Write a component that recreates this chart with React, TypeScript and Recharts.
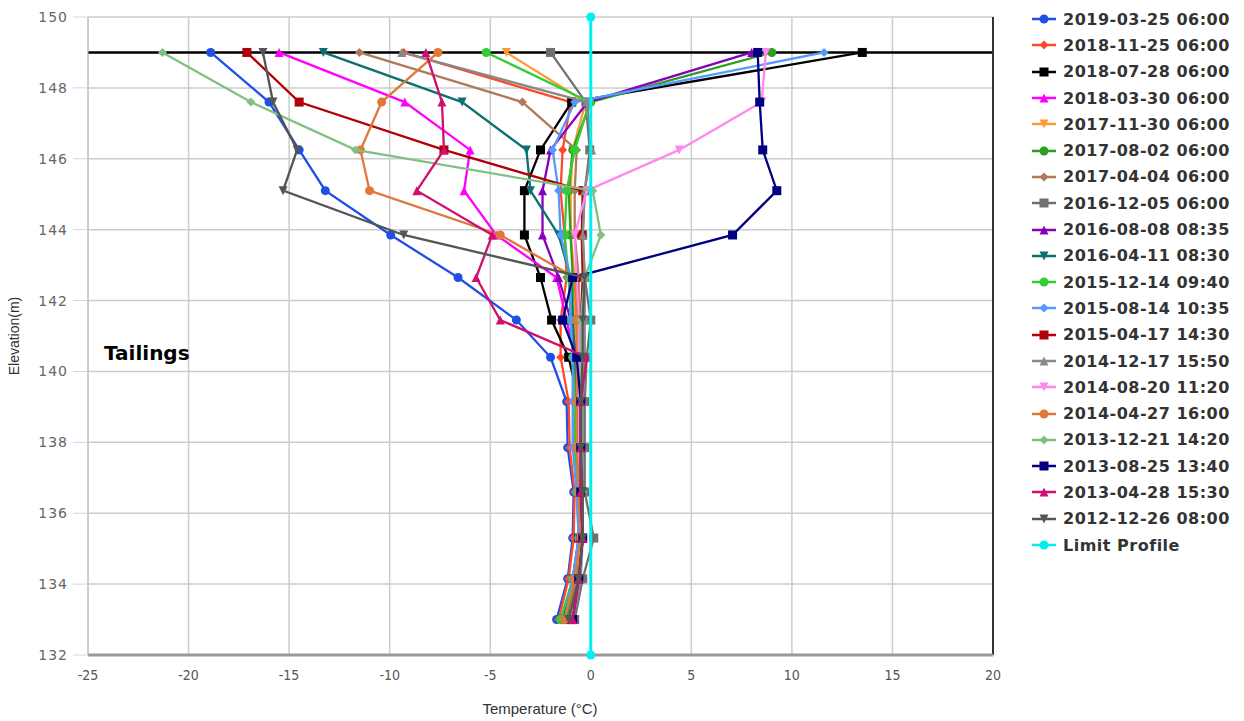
import React from 'react';
import {
  ScatterChart,
  Scatter,
  XAxis,
  YAxis,
  CartesianGrid,
  ReferenceLine,
} from 'recharts';

// elevation of each thermistor bead (m), top to bottom
const elevations = [149, 147.6, 146.25, 145.1, 143.85, 142.65, 141.45, 140.4, 139.15, 137.85, 136.6, 135.3, 134.15, 133.0];

const xTicks = [-25, -20, -15, -10, -5, 0, 5, 10, 15, 20];
const yTicks = [132, 134, 136, 138, 140, 142, 144, 146, 148, 150];

// temperatures (°C) per reading, same order as elevations
const t20190325 = [-18.9, -16.0, -14.5, -13.2, -9.95, -6.6, -3.7, -2.0, -1.2, -1.15, -0.85, -0.9, -1.15, -1.7];
const t20181125 = [-9.3, -1.0, -1.4, -1.5, -1.3, -1.2, -1.5, -1.5, -1.1, -1.05, -0.8, -0.85, -1.1, -1.6];
const t20180728 = [13.5, -0.95, -2.5, -3.3, -3.3, -2.5, -1.95, -1.1, -0.6, -0.6, -0.6, -0.6, -0.8, -1.3];
const t20180330 = [-15.5, -9.25, -6.0, -6.3, -4.7, -1.7, -1.2, -0.8, -0.7, -0.65, -0.6, -0.6, -0.8, -1.2];
const t20171130 = [-4.2, -0.25, -0.9, -1.0, -1.0, -0.8, -0.8, -0.7, -0.7, -0.7, -0.6, -0.6, -0.8, -1.3];
const t20170802 = [9.0, 0.0, -0.9, -1.1, -1.0, -0.9, -0.9, -0.8, -0.8, -0.8, -0.6, -0.5, -0.7, -1.2];
const t20170404 = [-11.5, -3.4, -0.7, -0.8, -0.8, -0.6, -0.6, -0.6, -0.6, -0.6, -0.5, -0.5, -0.7, -1.1];
const t20161205 = [-2.0, -0.25, -0.05, -0.3, -0.4, -0.3, 0.0, -0.2, -0.3, -0.3, -0.3, 0.15, -0.4, -0.8];
const t20160808 = [8.0, -0.15, -2.0, -2.4, -2.4, -1.6, -1.0, -0.7, -0.6, -0.6, -0.5, -0.4, -0.6, -1.0];
const t20160411 = [-13.3, -6.4, -3.2, -3.0, -1.6, -1.0, -0.9, -0.8, -0.7, -0.7, -0.6, -0.6, -0.9, -1.4];
const t20151214 = [-5.2, -0.05, -0.8, -1.2, -1.3, -1.1, -1.0, -0.9, -0.8, -0.8, -0.7, -0.6, -0.9, -1.5];
const t20150814 = [11.6, -0.8, -1.9, -1.6, -1.5, -1.0, -1.0, -0.9, -0.9, -0.9, -0.7, -0.6, -0.9, -1.3];
const t20150417 = [-17.1, -14.5, -7.3, -0.4, -0.45, -0.4, -0.5, -0.5, -0.5, -0.5, -0.5, -0.5, -0.6, -1.0];
const t20141217 = [-9.4, -0.2, 0.05, -0.3, -0.4, -0.3, -0.3, -0.3, -0.4, -0.4, -0.4, -0.4, -0.5, -0.9];
const t20140820 = [8.7, 8.5, 4.4, -0.2, -0.8, -0.7, -0.6, -0.6, -0.6, -0.6, -0.5, -0.5, -0.6, -0.9];
const t20140427 = [-7.6, -10.4, -11.45, -11.0, -4.5, -0.8, -0.7, -0.7, -0.7, -0.7, -0.6, -0.5, -0.8, -1.3];
const t20131221 = [-21.3, -16.9, -11.7, 0.1, 0.5, -0.3, -0.5, -0.5, -0.5, -0.5, -0.4, -0.4, -0.6, -1.0];
const t20130825 = [8.3, 8.4, 8.55, 9.25, 7.05, -0.9, -1.4, -0.7, -0.5, -0.5, -0.5, -0.4, -0.6, -0.9];
const t20130428 = [-8.2, -7.4, -7.3, -8.65, -4.9, -5.7, -4.5, -0.2, -0.5, -0.5, -0.5, -0.4, -0.6, -0.9];
const t20121226 = [-16.3, -15.8, -14.6, -15.3, -9.3, -0.3, -0.4, -0.4, -0.5, -0.5, -0.4, -0.4, -0.6, -1.1];

const limitTemps = [0, 0];
const limitElevations = [150, 132];

const surfaceElevation = 149;

type Kind = 'circle' | 'diamond' | 'square' | 'triangle' | 'triangle-down';

const series: { name: string; temps: number[]; color: string; kind: Kind }[] = [
  { name: '2019-03-25 06:00', temps: t20190325, color: '#1f4fe6', kind: 'circle' },
  { name: '2018-11-25 06:00', temps: t20181125, color: '#ff4b2b', kind: 'diamond' },
  { name: '2018-07-28 06:00', temps: t20180728, color: '#000000', kind: 'square' },
  { name: '2018-03-30 06:00', temps: t20180330, color: '#ff00ff', kind: 'triangle' },
  { name: '2017-11-30 06:00', temps: t20171130, color: '#ff9933', kind: 'triangle-down' },
  { name: '2017-08-02 06:00', temps: t20170802, color: '#2e9e1e', kind: 'circle' },
  { name: '2017-04-04 06:00', temps: t20170404, color: '#b07a5a', kind: 'diamond' },
  { name: '2016-12-05 06:00', temps: t20161205, color: '#707070', kind: 'square' },
  { name: '2016-08-08 08:35', temps: t20160808, color: '#8800bb', kind: 'triangle' },
  { name: '2016-04-11 08:30', temps: t20160411, color: '#0e6f6f', kind: 'triangle-down' },
  { name: '2015-12-14 09:40', temps: t20151214, color: '#33cc33', kind: 'circle' },
  { name: '2015-08-14 10:35', temps: t20150814, color: '#5599ff', kind: 'diamond' },
  { name: '2015-04-17 14:30', temps: t20150417, color: '#b0000a', kind: 'square' },
  { name: '2014-12-17 15:50', temps: t20141217, color: '#888888', kind: 'triangle' },
  { name: '2014-08-20 11:20', temps: t20140820, color: '#ff88ee', kind: 'triangle-down' },
  { name: '2014-04-27 16:00', temps: t20140427, color: '#e07838', kind: 'circle' },
  { name: '2013-12-21 14:20', temps: t20131221, color: '#80c080', kind: 'diamond' },
  { name: '2013-08-25 13:40', temps: t20130825, color: '#000080', kind: 'square' },
  { name: '2013-04-28 15:30', temps: t20130428, color: '#d0106e', kind: 'triangle' },
  { name: '2012-12-26 08:00', temps: t20121226, color: '#555555', kind: 'triangle-down' },
];

const limitColor = '#00f0f0';

const MarkerShape = ({ cx, cy, kind, color, r = 4.5 }: { cx: number; cy: number; kind: Kind; color: string; r?: number }) => {
  if (cx == null || cy == null) return null;
  switch (kind) {
    case 'square':
      return <rect x={cx - r} y={cy - r} width={r * 2} height={r * 2} fill={color} />;
    case 'diamond':
      return <path d={`M${cx},${cy - r} L${cx + r},${cy} L${cx},${cy + r} L${cx - r},${cy} Z`} fill={color} />;
    case 'triangle':
      return <path d={`M${cx},${cy - r} L${cx + r},${cy + r} L${cx - r},${cy + r} Z`} fill={color} />;
    case 'triangle-down':
      return <path d={`M${cx - r},${cy - r} L${cx + r},${cy - r} L${cx},${cy + r} Z`} fill={color} />;
    default:
      return <circle cx={cx} cy={cy} r={r} fill={color} />;
  }
};

const Legend = () => {
  const items = [...series.map((s) => ({ name: s.name, color: s.color, kind: s.kind })), { name: 'Limit Profile', color: limitColor, kind: 'circle' as Kind }];
  return (
    <div style={{ position: 'absolute', left: 1030, top: 6 }}>
      {items.map((it) => (
        <div key={it.name} style={{ display: 'flex', alignItems: 'center', height: 26.3 }}>
          <svg width={28} height={14} style={{ marginRight: 5 }}>
            <line x1={2} y1={7} x2={26} y2={7} stroke={it.color} strokeWidth={2.5} />
            <MarkerShape cx={14} cy={7} kind={it.kind} color={it.color} />
          </svg>
          <span style={{ fontFamily: 'DejaVu Sans, sans-serif', fontWeight: 'bold', fontSize: 16, color: '#333', letterSpacing: 0.5 }}>
            {it.name}
          </span>
        </div>
      ))}
    </div>
  );
};

export default function App() {
  const limitData = limitTemps.map((x, i) => ({ x, y: limitElevations[i] }));
  return (
    <div style={{ position: 'absolute', left: 0, top: 0, width: 1244, height: 721, background: '#fff', overflow: 'hidden' }}>
      <ScatterChart width={1010} height={721} margin={{ top: 17, right: 17, bottom: 0, left: 0 }}>
        <CartesianGrid stroke="#cccccc" strokeWidth={1.5} horizontalValues={yTicks} verticalValues={xTicks} />
        <XAxis
          type="number"
          dataKey="x"
          domain={[-25, 20]}
          ticks={xTicks}
          height={66}
          tickLine={false}
          tickMargin={9}
          axisLine={{ stroke: '#999', strokeWidth: 3 }}
          tick={{ fill: '#555', fontSize: 14, fontFamily: 'Liberation Sans Narrow, DejaVu Sans Condensed, sans-serif' }}
        />
        <YAxis
          type="number"
          dataKey="y"
          domain={[132, 150]}
          ticks={yTicks}
          width={88}
          tickSize={15}
          tickMargin={5}
          tickLine={{ stroke: '#ccd6eb' }}
          axisLine={{ stroke: '#c0c0c0' }}
          tick={{ fill: '#666', fontSize: 14, fontFamily: 'DejaVu Sans, sans-serif', letterSpacing: 1 }}
        />
        <ReferenceLine y={surfaceElevation} stroke="#000" strokeWidth={2.5} />
        <ReferenceLine x={20} stroke="#333" strokeWidth={2} />
        {series.map((s) => (
          <Scatter
            key={s.name}
            name={s.name}
            data={s.temps.map((x, i) => ({ x, y: elevations[i] }))}
            fill={s.color}
            line={{ stroke: s.color, strokeWidth: 2.3 }}
            lineType="joint"
            isAnimationActive={false}
            shape={(p: any) => <MarkerShape cx={p.cx} cy={p.cy} kind={s.kind} color={s.color} />}
          />
        ))}
        <Scatter
          name="Limit Profile"
          data={limitData}
          fill={limitColor}
          line={{ stroke: limitColor, strokeWidth: 3 }}
          lineType="joint"
          isAnimationActive={false}
          shape={(p: any) => <MarkerShape cx={p.cx} cy={p.cy} kind="circle" color={limitColor} />}
        />
      </ScatterChart>
      <div style={{ position: 'absolute', left: 104, top: 341, fontFamily: 'DejaVu Sans, sans-serif', fontWeight: 'bold', fontSize: 20, color: '#000' }}>
        Tailings
      </div>
      <div
        style={{
          position: 'absolute',
          left: 14,
          top: 336,
          transform: 'translate(-50%, -50%) rotate(-90deg)',
          fontFamily: 'Liberation Sans Narrow, sans-serif',
          fontSize: 14,
          color: '#333',
          whiteSpace: 'nowrap',
        }}
      >
        Elevation(m)
      </div>
      <div
        style={{
          position: 'absolute',
          left: 540,
          top: 708,
          transform: 'translate(-50%, -50%)',
          fontFamily: 'Liberation Sans Narrow, sans-serif',
          fontSize: 15,
          color: '#333',
          whiteSpace: 'nowrap',
        }}
      >
        Temperature (°C)
      </div>
      <Legend />
    </div>
  );
}
